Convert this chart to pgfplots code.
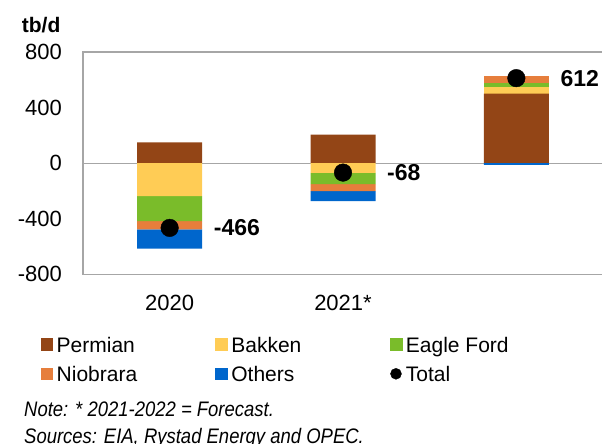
\documentclass[border=0pt]{standalone}
\usepackage{fontspec}
\setmainfont{Liberation Sans}
\usepackage{graphicx}
\usepackage{pgfplots}
\pgfplotsset{compat=1.18}

\definecolor{permian}{RGB}{147,69,22}
\definecolor{bakken}{RGB}{255,204,85}
\definecolor{eagle}{RGB}{122,188,42}
\definecolor{niob}{RGB}{230,126,60}
\definecolor{others}{RGB}{0,102,204}
\definecolor{framegray}{RGB}{166,166,166}

% same frame for the three stacked layers
\pgfplotsset{
  base/.style={scale only axis, width=520pt, height=222.3pt,
    at={(83pt,169.7pt)}, anchor=south west,
    xmin=-0.5, xmax=2.5, ymin=-800, ymax=800},
  bars/.style={ybar stacked, bar width=65pt},
  sq/.style={legend image code/.code={
    \fill[#1] (0pt,1.65pt) rectangle (11.7pt,13.35pt);
    \path (0pt,0pt) (13.6pt,0pt);}},
}

\begin{document}
\begin{tikzpicture}
\useasboundingbox (0,0) rectangle (602pt,444pt);

% frame, ticks and the parts above zero
\begin{axis}[base, bars,
  axis line style={framegray, line width=1.2pt},
  major tick length=0pt,
  ytick={-800,-400,0,400,800}, yticklabels={-800,-400,0,400,800},
  xtick={0,1,2}, xticklabels={2020,2021*,{}},
  tick label style={font=\fontsize{22}{26}\selectfont, inner sep=0pt},
  yticklabel style={xshift=-21pt},
  xticklabel style={yshift=-20.7pt},
  extra y ticks={0}, extra y tick labels={},
  extra y tick style={grid=major, major grid style={framegray, line width=1.2pt}},
]
\addplot[fill=permian, draw=none] coordinates {(0,150) (1,206) (2,500)};
\addplot[fill=bakken, draw=none] coordinates {(0,0) (1,0) (2,47)};
\addplot[fill=eagle, draw=none] coordinates {(0,0) (1,0) (2,29)};
\addplot[fill=niob, draw=none] coordinates {(0,0) (1,0) (2,48)};
\end{axis}

% the parts below zero
\begin{axis}[base, bars, hide axis]
\addplot[fill=bakken, draw=none] coordinates {(0,-237) (1,-70) (2,0)};
\addplot[fill=eagle, draw=none] coordinates {(0,-180) (1,-81) (2,0)};
\addplot[fill=niob, draw=none] coordinates {(0,-60) (1,-50) (2,0)};
\addplot[fill=others, draw=none] coordinates {(0,-139) (1,-73) (2,-12)};
\end{axis}

% totals and legend
\begin{axis}[base, hide axis, clip=false,
  legend columns=3,
  legend style={at={(-0.0813,-0.2731)}, anchor=north west,
    draw=none, fill=none, inner sep=0pt, outer sep=0pt,
    column sep=0pt, row sep=8.8pt,
    font=\fontsize{21}{25}\selectfont,
    cells={anchor=base west, inner sep=0pt, text height=15pt, text depth=5pt}},
]
\addlegendimage{sq=permian}
\addlegendimage{sq=bakken}
\addlegendimage{sq=eagle}
\addlegendimage{sq=niob}
\addlegendimage{sq=others}
\addplot[only marks, mark=*, mark size=8.8pt, black,
  legend image code/.code={\fill[black] (5.85pt,7.5pt) circle (5.5pt);
    \path (0pt,0pt) (13.6pt,0pt);},
  nodes near coords, point meta=explicit symbolic,
  every node near coord/.append style={anchor=west, xshift=44pt, yshift=0pt,
    inner sep=0pt, font=\bfseries\fontsize{23}{27}\selectfont}]
  coordinates {(0,-466) [-466] (1,-68) [-68] (2,612) [612]};
\legend{\makebox[156.6pt][l]{Permian}, \makebox[156.6pt][l]{Bakken}, Eagle Ford,
  \makebox[156.6pt][l]{Niobrara}, \makebox[156.6pt][l]{Others}, Total}
\end{axis}

\node[anchor=base west, inner sep=0pt, font=\bfseries\fontsize{21}{25}\selectfont]
  at (21.7pt,411.7pt) {tb/d};
\node[anchor=base west, inner sep=0pt, font=\itshape\fontsize{21}{25}\selectfont]
  at (24pt,27.3pt) {\scalebox{0.88}[1]{Note: * 2021-2022 = Forecast.}};
\node[anchor=base west, inner sep=0pt, font=\itshape\fontsize{21}{25}\selectfont]
  at (24pt,0.7pt) {\scalebox{0.88}[1]{Sources: EIA, Rystad Energy and OPEC.}};
\end{tikzpicture}
\end{document}
